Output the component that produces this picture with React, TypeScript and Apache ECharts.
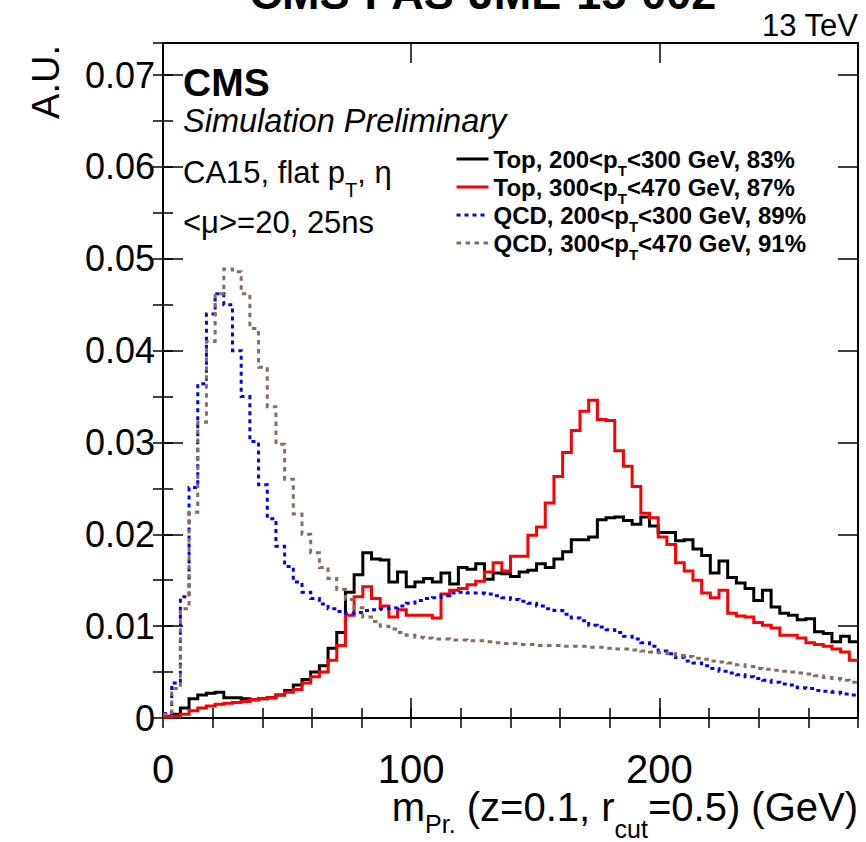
import React, { useEffect, useRef } from 'react';
import * as echarts from 'echarts';

// ---- data (bin width 3.5 GeV, 80 bins from 0 to 280 GeV) ----
const BIN_WIDTH = 3.5;
const X_MAX = 280;
const Y_MAX = 0.0735;

const top200 = [
  0.0002, 0.0004, 0.0011, 0.0021, 0.0025, 0.0027, 0.0028, 0.0022, 0.0022, 0.0021,
  0.0020, 0.0021, 0.0022, 0.0025, 0.0030, 0.0036, 0.0042, 0.0050, 0.0057, 0.0076,
  0.0093, 0.0137, 0.0156, 0.0180, 0.0173, 0.0172, 0.0148, 0.0159, 0.0143, 0.0148,
  0.0152, 0.0148, 0.0158, 0.0146, 0.0164, 0.0162, 0.0168, 0.0151, 0.0158, 0.0157,
  0.0154, 0.0159, 0.0161, 0.0168, 0.0164, 0.0173, 0.0181, 0.0194, 0.0194, 0.0197,
  0.0216, 0.0218, 0.0219, 0.0215, 0.0211, 0.0219, 0.0209, 0.0202, 0.0202, 0.0193,
  0.0194, 0.0184, 0.0177, 0.0158, 0.0171, 0.0153, 0.0147, 0.0141, 0.0128, 0.0139,
  0.0121, 0.0114, 0.0112, 0.0107, 0.0108, 0.0094, 0.0092, 0.0083, 0.0089, 0.0083,
];

const top300 = [
  0.0001, 0.0002, 0.0004, 0.0008, 0.0011, 0.0013, 0.0015, 0.0016, 0.0017, 0.0018,
  0.0020, 0.0021, 0.0022, 0.0025, 0.0028, 0.0031, 0.0038, 0.0045, 0.0050, 0.0063,
  0.0079, 0.0112, 0.0132, 0.0143, 0.0130, 0.0122, 0.0110, 0.0118, 0.0112, 0.0112,
  0.0112, 0.0109, 0.0135, 0.0139, 0.0141, 0.0145, 0.0149, 0.0159, 0.0169, 0.0160,
  0.0176, 0.0176, 0.0199, 0.0208, 0.0234, 0.0263, 0.0289, 0.0313, 0.0334, 0.0346,
  0.0325, 0.0324, 0.0291, 0.0274, 0.0252, 0.0223, 0.0218, 0.0197, 0.0189, 0.0169,
  0.0160, 0.0150, 0.0136, 0.0131, 0.0139, 0.0114, 0.0111, 0.0110, 0.0104, 0.0101,
  0.0098, 0.0090, 0.0090, 0.0087, 0.0082, 0.0080, 0.0078, 0.0075, 0.0072, 0.0063,
];

const qcd200 = [
  0.0005, 0.0038, 0.0132, 0.0251, 0.0364, 0.0440, 0.0462, 0.0450, 0.0400, 0.0350,
  0.0301, 0.0254, 0.0217, 0.0187, 0.0165, 0.0148, 0.0137, 0.0130, 0.0124, 0.0119,
  0.0116, 0.0114, 0.0115, 0.0117, 0.0118, 0.0119, 0.0120, 0.0122, 0.0125, 0.0128,
  0.0130, 0.0131, 0.0133, 0.0136, 0.0137, 0.0136, 0.0136, 0.0135, 0.0133, 0.0131,
  0.0129, 0.0127, 0.0125, 0.0122, 0.0119, 0.0117, 0.0113, 0.0109, 0.0106, 0.0101,
  0.0099, 0.0096, 0.0093, 0.0089, 0.0086, 0.0082, 0.0078, 0.0073, 0.0070, 0.0066,
  0.0062, 0.0060, 0.0057, 0.0054, 0.0051, 0.0049, 0.0047, 0.0045, 0.0043, 0.0041,
  0.0039, 0.0037, 0.0036, 0.0033, 0.0032, 0.0030, 0.0029, 0.0028, 0.0026, 0.0025,
];

const qcd300 = [
  0.0004, 0.0032, 0.0119, 0.0224, 0.0322, 0.0410, 0.0462, 0.0489, 0.0486, 0.0462,
  0.0424, 0.0382, 0.0339, 0.0298, 0.0260, 0.0222, 0.0200, 0.0180, 0.0164, 0.0152,
  0.0140, 0.0129, 0.0120, 0.0110, 0.0105, 0.0100, 0.0097, 0.0093, 0.0090, 0.0088,
  0.0087, 0.0086, 0.0086, 0.0085, 0.0085, 0.0084, 0.0084, 0.0083, 0.0082, 0.0081,
  0.0081, 0.0080, 0.0080, 0.0079, 0.0079, 0.0079, 0.0078, 0.0078, 0.0078, 0.0077,
  0.0077, 0.0076, 0.0075, 0.0075, 0.0074, 0.0073, 0.0072, 0.0071, 0.0070, 0.0068,
  0.0067, 0.0065, 0.0064, 0.0062, 0.0061, 0.0060, 0.0058, 0.0056, 0.0054, 0.0053,
  0.0052, 0.0051, 0.0050, 0.0049, 0.0048, 0.0046, 0.0044, 0.0043, 0.0041, 0.0039,
];

const seriesNames = [
  'Top, 200<pT<300 GeV, 83%',
  'Top, 300<pT<470 GeV, 87%',
  'QCD, 200<pT<300 GeV, 89%',
  'QCD, 300<pT<470 GeV, 91%',
];
const legendRich: Record<string, string> = {
  [seriesNames[0]]: 'Top, 200<p{s|T}<300 GeV, 83%',
  [seriesNames[1]]: 'Top, 300<p{s|T}<470 GeV, 87%',
  [seriesNames[2]]: 'QCD, 200<p{s|T}<300 GeV, 89%',
  [seriesNames[3]]: 'QCD, 300<p{s|T}<470 GeV, 91%',
};

const FONT = "'Liberation Sans', Arial, Helvetica, sans-serif";

function toSteps(values: number[]) {
  const pts: number[][] = values.map((v, i) => [i * BIN_WIDTH, v]);
  pts.push([values.length * BIN_WIDTH, values[values.length - 1]]);
  return pts;
}

export default function App() {
  const ref = useRef<HTMLDivElement>(null);

  useEffect(() => {
    if (!ref.current) return;
    const chart = echarts.init(ref.current, undefined, { renderer: 'svg' });

    const tickStyle = { color: '#000', width: 1.5 };
    const frameLine = { show: true, onZero: false, lineStyle: { color: '#000', width: 2 } };

    const mkX = (position: string, interval: number, len: number, labels: boolean, line: boolean) => ({
      type: 'value', min: 0, max: X_MAX, interval, position, gridIndex: 0,
      splitLine: { show: false },
      axisLine: line ? frameLine : { show: false },
      axisTick: { show: true, inside: true, length: len, lineStyle: tickStyle },
      axisLabel: labels
        ? { show: true, margin: 31, fontSize: 40, fontFamily: FONT, color: '#000', showMaxLabel: false,
            formatter: (v: number) => String(Math.round(v)) }
        : { show: false },
    });
    const mkY = (position: string, interval: number, len: number, labels: boolean, line: boolean) => ({
      type: 'value', min: 0, max: Y_MAX, interval, position, gridIndex: 0,
      splitLine: { show: false },
      axisLine: line ? frameLine : { show: false },
      axisTick: { show: true, inside: true, length: len, lineStyle: tickStyle },
      axisLabel: labels
        ? { show: true, margin: 8, fontSize: 36, fontFamily: FONT, color: '#000', showMaxLabel: false,
            formatter: (v: number) => (v === 0 ? '0' : v.toFixed(2)) }
        : { show: false },
    });

    const seriesDefs = [
      { name: seriesNames[0], data: top200, color: '#000000', type: 'solid' as any },
      { name: seriesNames[1], data: top300, color: '#ff0000', type: 'solid' as any },
      { name: seriesNames[2], data: qcd200, color: '#0000ff', type: [4, 4] as any },
      { name: seriesNames[3], data: qcd300, color: '#8b6b5c', type: [4.5, 4.5] as any },
    ];

    const option: any = {
      animation: false,
      backgroundColor: '#ffffff',
      grid: { left: 163, right: 8, top: 43, bottom: 124, containLabel: false },
      xAxis: [
        mkX('bottom', 100, 20, true, true),
        mkX('bottom', 20, 10, false, false),
        mkX('top', 100, 20, false, true),
        mkX('top', 20, 10, false, false),
      ],
      yAxis: [
        mkY('left', 0.01, 20, true, true),
        mkY('left', 0.005, 10, false, false),
        mkY('right', 0.01, 20, false, true),
        mkY('right', 0.005, 10, false, false),
      ],
      legend: {
        orient: 'vertical',
        left: 455,
        top: 147,
        padding: 0,
        itemWidth: 32,
        itemHeight: 3,
        itemGap: -3,
        selectedMode: false,
        data: seriesNames,
        itemStyle: { opacity: 0 },
        lineStyle: { width: 3 },
        formatter: (name: string) => legendRich[name],
        textStyle: {
          fontFamily: FONT, fontWeight: 'bold', fontSize: 24, color: '#000', lineHeight: 24,
          rich: { s: { fontFamily: FONT, fontWeight: 'bold', fontSize: 15, height: 1, verticalAlign: 'bottom', color: '#000' } },
        },
      },
      series: seriesDefs.map((s, i) => ({
        type: 'line',
        name: s.name,
        data: toSteps(s.data),
        step: 'end',
        symbol: 'none',
        showSymbol: false,
        xAxisIndex: 0,
        yAxisIndex: 0,
        clip: true,
        silent: true,
        z: 2 + i,
        itemStyle: { color: s.color },
        lineStyle: { color: s.color, width: 3, type: s.type, cap: 'butt', join: 'miter' },
      })),
      graphic: [
        { type: 'text', x: 483, y: -7, silent: true,
          style: { text: 'CMS-PAS-JME-15-002', fontFamily: FONT, fontWeight: 'bold', fontSize: 45, fill: '#000', align: 'center', verticalAlign: 'middle' } },
        { type: 'text', x: 858, y: 25, silent: true,
          style: { text: '13 TeV', fontFamily: FONT, fontSize: 31, fill: '#000', align: 'right', verticalAlign: 'middle' } },
        { type: 'text', x: 46, y: 45, rotation: Math.PI / 2, silent: true,
          style: { text: 'A.U.', fontFamily: FONT, fontSize: 38, fill: '#000', align: 'right', verticalAlign: 'middle' } },
        { type: 'text', x: 183, y: 82, silent: true,
          style: { text: 'CMS', fontFamily: FONT, fontWeight: 'bold', fontSize: 39, fill: '#000', align: 'left', verticalAlign: 'middle' } },
        { type: 'text', x: 183, y: 121, silent: true,
          style: { text: 'Simulation Preliminary', fontFamily: FONT, fontStyle: 'italic', fontSize: 32.5, fill: '#000', align: 'left', verticalAlign: 'middle' } },
        { type: 'text', x: 183, y: 172, silent: true,
          style: {
            text: '{a|CA15, flat p}{s|T}{a|, η}', align: 'left', verticalAlign: 'middle',
            rich: {
              a: { fontFamily: FONT, fontSize: 31, lineHeight: 40, fill: '#000', color: '#000' },
              s: { fontFamily: FONT, fontSize: 20, height: 5, verticalAlign: 'bottom', fill: '#000', color: '#000' },
            },
          } },
        { type: 'text', x: 183, y: 222, silent: true,
          style: { text: '<μ>=20, 25ns', fontFamily: FONT, fontSize: 31, fill: '#000', align: 'left', verticalAlign: 'middle' } },
        { type: 'text', x: 858, y: 807, silent: true,
          style: {
            text: '{a|m}{p|Pr.}{a| (z=0.1, r}{c|cut}{a|=0.5) (GeV)}', align: 'right', verticalAlign: 'middle',
            rich: {
              a: { fontFamily: FONT, fontSize: 40, lineHeight: 52, fill: '#000', color: '#000' },
              p: { fontFamily: FONT, fontSize: 25, height: 18, verticalAlign: 'bottom', fill: '#000', color: '#000' },
              c: { fontFamily: FONT, fontSize: 25, height: 9, verticalAlign: 'bottom', fill: '#000', color: '#000' },
            },
          } },
      ],
    };

    chart.setOption(option);
    return () => chart.dispose();
  }, []);

  return (
    <div
      ref={ref}
      style={{ position: 'fixed', left: 0, top: 0, width: 866, height: 842, background: '#fff' }}
    />
  );
}
